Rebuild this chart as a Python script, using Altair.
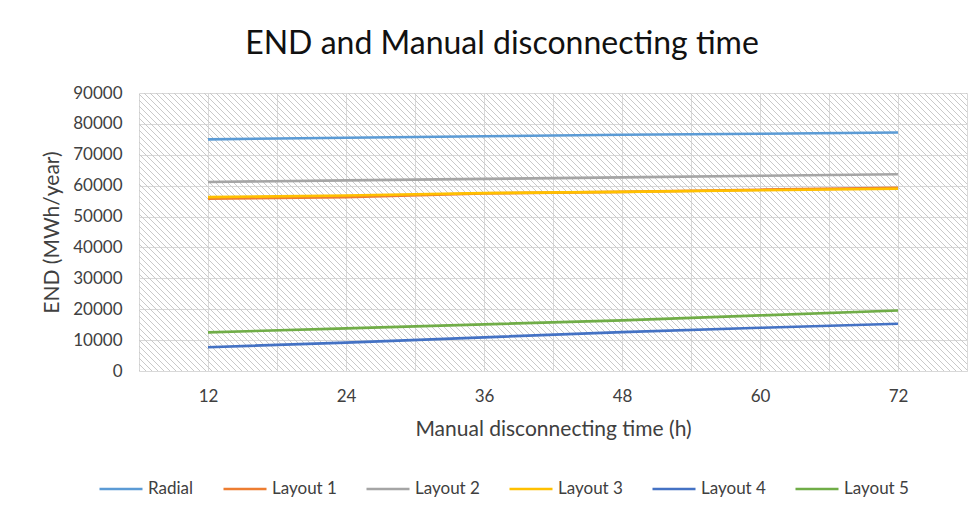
import math
import altair as alt
import pandas as pd

# Manual disconnecting time (h) and energy not delivered (MWh/year) per network layout
hours = [12, 24, 36, 48, 60, 72]
series_names = ["Radial", "Layout 1", "Layout 2", "Layout 3", "Layout 4", "Layout 5"]
radial = [75000, 75500, 76000, 76500, 76800, 77200]
layout1 = [55800, 56300, 57500, 58000, 58700, 59300]
layout2 = [61200, 61700, 62200, 62700, 63200, 63700]
layout3 = [56300, 56800, 57600, 58000, 58500, 59000]
layout4 = [7700, 9200, 10900, 12600, 14000, 15300]
layout5 = [12500, 13800, 15100, 16400, 18000, 19600]
series_colors = ["#5B9BD5", "#ED7D31", "#A5A5A5", "#FFC000", "#4472C4", "#70AD47"]

x_ticks = [6, 12, 18, 24, 30, 36, 42, 48, 54, 60, 66, 72, 78]
y_ticks = [0, 10000, 20000, 30000, 40000, 50000, 60000, 70000, 80000, 90000]

rows = []
for name, vals in zip(series_names, [radial, layout1, layout2, layout3, layout4, layout5]):
    for h, v in zip(hours, vals):
        rows.append({"Hours": h, "END": v, "Series": name})
df = pd.DataFrame(rows)

W, H = 828, 278
FONT = "Lato"

# Diagonal hatch for the plot background: a striped linear gradient whose
# stripe period is a whole number of pixels, with soft edges against aliasing
period = 6
n = math.ceil((W + H) / period)
r = H / W
a = (n * period / (W + H)) * (1 + r) / (1 + r * r)
clear = "rgba(255,255,255,0)"
line_col = "#c9c9c9"
stops = []
for i in range(n):
    stops.append({"offset": i / n, "color": clear})
    stops.append({"offset": (i + 1.0 / period) / n, "color": line_col})
    stops.append({"offset": (i + 2.0 / period) / n, "color": clear})
stops.append({"offset": 1, "color": clear})
hatch = {"gradient": "linear", "x1": 0, "y1": 1, "x2": a, "y2": 1 - a * r, "stops": stops}

x_scale = alt.Scale(domain=[6, 78], nice=False, zero=False)
y_scale = alt.Scale(domain=[0, 90000], nice=False)
x_axis = alt.Axis(
    values=x_ticks,
    labelExpr="datum.value % 12 == 0 && datum.value >= 12 && datum.value <= 72 ? datum.label : ''",
    title="Manual disconnecting  time (h)",
    ticks=False,
    labelPadding=17,
    titlePadding=14,
    domainColor="#d9d9d9",
)
y_axis = alt.Axis(
    values=y_ticks,
    format="d",
    title="END (MWh/year)",
    ticks=False,
    domain=False,
    labelPadding=17,
    titlePadding=10,
)

background = alt.Chart(alt.Data(values=[{}])).mark_rect(fill=hatch, strokeWidth=0).encode(
    x=alt.XDatum(6, scale=x_scale, axis=x_axis),
    x2=alt.X2Datum(78),
    y=alt.YDatum(0, scale=y_scale, axis=y_axis),
    y2=alt.Y2Datum(90000),
)

lines = alt.Chart(df).mark_line(strokeWidth=2.6).encode(
    x=alt.X("Hours:Q", scale=x_scale, axis=x_axis),
    y=alt.Y("END:Q", scale=y_scale, axis=y_axis),
    color=alt.Color(
        "Series:N",
        scale=alt.Scale(domain=series_names, range=series_colors),
        sort=series_names,
        legend=alt.Legend(
            title=None,
            orient="none",
            direction="horizontal",
            legendX=-41,
            legendY=373,
            symbolType="stroke",
            symbolSize=1850,
            symbolStrokeWidth=2.6,
            labelFontSize=17,
            labelFont=FONT,
            labelColor="#404040",
            labelOffset=4,
            columnPadding=24,
        ),
    ),
)

chart = (
    alt.layer(background, lines)
    .properties(
        width=W,
        height=H,
        autosize=alt.AutoSizeParams(type="none"),
        padding={"left": 139, "top": 93, "right": 11, "bottom": 149},
        title=alt.TitleParams(
            "END and Manual disconnecting time",
            font=FONT,
            fontSize=32,
            fontWeight="normal",
            color="#111111",
            anchor="middle",
            frame="group",
            dx=-51,
            offset=23,
        ),
    )
    .configure_view(stroke=None, fill="white")
    .configure_axis(
        grid=True,
        gridColor="#d9d9d9",
        gridWidth=1,
        labelFont=FONT,
        labelFontSize=17,
        labelColor="#404040",
        titleFont=FONT,
        titleFontSize=21,
        titleFontWeight="normal",
        titleColor="#404040",
    )
)

chart.save("out.html", embed_options={"renderer": "svg", "actions": False})
